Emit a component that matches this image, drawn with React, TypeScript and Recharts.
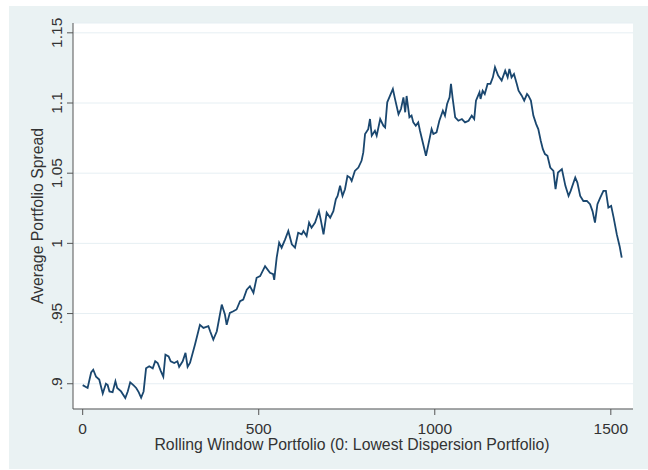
import { LineChart, Line, XAxis, YAxis, CartesianGrid } from "recharts";

// portfolio rank (0 = lowest dispersion) and average spread
const portfolio = [
  0, 14, 24, 30, 38, 47, 57, 66, 71, 76, 85, 93, 98, 109, 121, 128, 135, 144, 152, 159,
  166, 173, 180, 189, 199, 206, 213, 222, 229, 235, 244, 250, 260, 269, 274, 284, 292, 298, 305, 319,
  333, 343, 357, 362, 371, 381, 395, 404, 409, 418, 428, 437, 447, 456, 466, 475, 485, 494, 504, 518,
  532, 541, 544, 551, 558, 565, 575, 584, 594, 603, 612, 622, 627, 636, 643, 650, 660, 671, 676, 684,
  693, 703, 712, 719, 724, 731, 738, 745, 752, 759, 764, 773, 783, 792, 797, 802, 811, 816, 821, 830,
  835, 845, 854, 859, 865, 873, 881, 887, 897, 904, 911, 916, 920, 928, 934, 939, 946, 953, 958, 966,
  975, 981, 991, 996, 1005, 1013, 1023, 1029, 1035, 1042, 1046, 1051, 1058, 1067, 1077, 1086, 1096, 1105, 1112, 1117,
  1127, 1130, 1136, 1142, 1150, 1158, 1165, 1171, 1180, 1190, 1200, 1207, 1212, 1218, 1225, 1233, 1238, 1247, 1254, 1262,
  1266, 1273, 1280, 1288, 1294, 1301, 1307, 1313, 1320, 1328, 1337, 1343, 1350, 1361, 1371, 1380, 1386, 1399, 1405, 1413,
  1422, 1432, 1441, 1448, 1455, 1462, 1470, 1479, 1486, 1493, 1501, 1508, 1517, 1525, 1531,
];

const spread = [
  0.899, 0.897, 0.908, 0.91, 0.905, 0.903, 0.893, 0.9, 0.899, 0.8945, 0.894, 0.9017, 0.897, 0.8945, 0.8898, 0.8945, 0.901, 0.899, 0.897, 0.894,
  0.89, 0.8945, 0.911, 0.9125, 0.911, 0.916, 0.9148, 0.909, 0.905, 0.9207, 0.9195, 0.916, 0.9148, 0.916, 0.912, 0.916, 0.922, 0.912, 0.915, 0.928,
  0.942, 0.9398, 0.941, 0.9374, 0.9314, 0.9374, 0.9564, 0.9493, 0.942, 0.9505, 0.9516, 0.9529, 0.9588, 0.96, 0.967, 0.9695, 0.9648, 0.9755, 0.9767, 0.9838,
  0.979, 0.978, 0.974, 0.9898, 1.0005, 0.9969, 1.0029, 1.0088, 0.9993, 0.997, 1.0076, 1.0064, 1.0088, 1.0052, 1.0148, 1.0112, 1.0148, 1.023, 1.0171, 1.0064,
  1.0219, 1.0183, 1.023, 1.0314, 1.0338, 1.041, 1.0338, 1.0386, 1.048, 1.0469, 1.0445, 1.0516, 1.054, 1.0588, 1.0648, 1.0779, 1.0814, 1.0886, 1.0767, 1.0802,
  1.0767, 1.0886, 1.0838, 1.0826, 1.1005, 1.1052, 1.11, 1.1029, 1.092, 1.0957, 1.104, 1.0934, 1.105, 1.0898, 1.091, 1.0862, 1.0838, 1.0862, 1.0802, 1.0719,
  1.0624, 1.0695, 1.0814, 1.0779, 1.0791, 1.0874, 1.0945, 1.091, 1.0993, 1.104, 1.1136, 1.1029, 1.0898, 1.0874, 1.0886, 1.0862, 1.0874, 1.091, 1.0886, 1.1017,
  1.1076, 1.1029, 1.1088, 1.1064, 1.1136, 1.1136, 1.1183, 1.1255, 1.1195, 1.116, 1.123, 1.1183, 1.1243, 1.1183, 1.1207, 1.1136, 1.1088, 1.1052, 1.1017, 1.1064,
  1.1052, 1.1017, 1.091, 1.085, 1.0814, 1.0731, 1.0671, 1.0636, 1.0624, 1.054, 1.0516, 1.0386, 1.0505, 1.0529, 1.041, 1.0338, 1.0374, 1.0469, 1.0433, 1.0338,
  1.0302, 1.0302, 1.0279, 1.023, 1.0148, 1.0279, 1.0326, 1.0374, 1.0374, 1.0255, 1.0267, 1.0183, 1.0064, 0.998, 0.9898,
];

const xTicks = [0, 500, 1000, 1500];
const yTicks = [0.9, 0.95, 1, 1.05, 1.1, 1.15];

const data = portfolio.map((p, i) => ({ p, v: spread[i] }));

const font = '"Liberation Sans", Arial, sans-serif';
const ink = "#333";

// stata drops the leading zero: .9, .95
const fmtY = (v: number) => String(v).replace(/^0\./, ".");

function RotatedTick(props: any) {
  const { x, y, payload } = props;
  const cx = x - 8;
  return (
    <text
      x={cx}
      y={y}
      dy="0.35em"
      textAnchor="middle"
      transform={`rotate(-90 ${cx} ${y})`}
      fill={ink}
      fontSize={15.5}
      fontFamily={font}
    >
      {fmtY(payload.value)}
    </text>
  );
}

export default function App() {
  return (
    <div style={{ position: "absolute", left: 0, top: 0, width: 648, height: 470, background: "#fff" }}>
      <div style={{ position: "absolute", left: 9, top: 6, width: 639, height: 463, background: "#EAF2F3" }} />
      <div style={{ position: "absolute", left: 0, top: 0 }}>
        <LineChart width={648} height={470} data={data} margin={{ top: 23, right: 15, left: 0, bottom: 0 }}>
          <CartesianGrid vertical={false} fill="#ffffff" stroke="#E6EFF3" strokeWidth={1} />
          <XAxis
            dataKey="p"
            type="number"
            domain={[-27.5, 1563]}
            ticks={xTicks}
            height={61}
            tickSize={6}
            tickMargin={8}
            stroke="#555"
            tick={{ fill: ink, fontSize: 15.5, fontFamily: font }}
          />
          <YAxis
            type="number"
            domain={[0.882, 1.157]}
            ticks={yTicks}
            width={73}
            tickSize={6}
            stroke="#555"
            tick={<RotatedTick />}
          />
          <Line
            type="linear"
            dataKey="v"
            stroke="#1A476F"
            strokeWidth={1.8}
            dot={false}
            isAnimationActive={false}
          />
        </LineChart>
      </div>
      <svg width={648} height={470} style={{ position: "absolute", left: 0, top: 0, pointerEvents: "none" }}>
        <text x={352} y={450} textAnchor="middle" fill={ink} fontSize={15.8} fontFamily={font}>
          Rolling Window Portfolio (0: Lowest Dispersion Portfolio)
        </text>
        <text
          x={37}
          y={216}
          dy="0.35em"
          textAnchor="middle"
          transform="rotate(-90 37 216)"
          fill={ink}
          fontSize={15.8}
          fontFamily={font}
        >
          Average Portfolio Spread
        </text>
      </svg>
    </div>
  );
}
